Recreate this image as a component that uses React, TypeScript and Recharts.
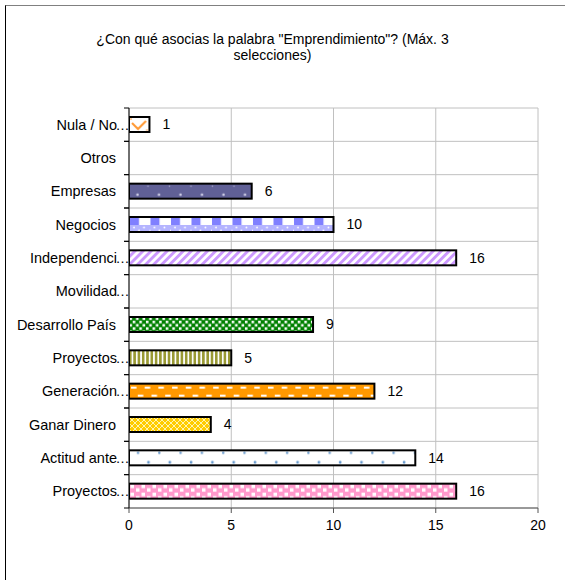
import React from "react";
import { Bar, BarChart, CartesianGrid, LabelList, XAxis, YAxis } from "recharts";

const categories = [
  "Nula / No…",
  "Otros",
  "Empresas",
  "Negocios",
  "Independenci…",
  "Movilidad…",
  "Desarrollo País",
  "Proyectos…",
  "Generación…",
  "Ganar Dinero",
  "Actitud ante…",
  "Proyectos…",
];
const values = [1, 0, 6, 10, 16, 0, 9, 5, 12, 4, 14, 16];
const xTicks = [0, 5, 10, 15, 20];
const titleLines = ['¿Con qué asocias la palabra "Emprendimiento"? (Máx. 3', "selecciones)"];

// pattern used for each category's bar
const fills = [
  "nula",
  "none",
  "empresas",
  "negocios",
  "indep",
  "none",
  "desarrollo",
  "olive",
  "generacion",
  "ganar",
  "actitud",
  "rosa",
];

const data = categories.map((label, i) => ({ key: String(i), label, value: values[i] }));

const W = 565;
const H = 580;
const TOP = 108;
const LEFT = 129;
const PLOT_H = 400;
const BAND = PLOT_H / categories.length;
const FONT = '"Liberation Sans", Arial, sans-serif';

function patternFor(kind: string, id: string, x: number, y: number) {
  const common = { id, patternUnits: "userSpaceOnUse" as const, x, y };
  switch (kind) {
    case "nula":
      return (
        <pattern {...common} width={20.5} height={16}>
          <rect width={20.5} height={16} fill="#fff" />
          <path d="M3 6 L9 12 L17 4" stroke="#ff9933" strokeWidth={2} fill="none" />
          <circle cx={2} cy={2} r={1} fill="#ffc080" />
          <circle cx={18} cy={13} r={1} fill="#ffc080" />
        </pattern>
      );
    case "empresas":
      return (
        <pattern {...common} width={21.5} height={16}>
          <rect width={21.5} height={16} fill="#606096" />
          <circle cx={8.5} cy={11} r={1.3} fill="#d0d0e8" />
          <circle cx={19} cy={2.5} r={0.8} fill="#a8a8cc" />
        </pattern>
      );
    case "negocios":
      return (
        <pattern {...common} width={20.5} height={16}>
          <rect width={20.5} height={16} fill="#fff" />
          <rect x={1} y={0} width={9} height={8} fill="#8080ff" />
          <rect x={0} y={8} width={20.5} height={8} fill="#b4b4ff" />
          <circle cx={5} cy={10.5} r={0.9} fill="#fff" />
          <circle cx={15} cy={10.5} r={0.9} fill="#fff" />
          <circle cx={10} cy={13.5} r={0.9} fill="#fff" />
          <circle cx={0} cy={13.5} r={0.9} fill="#fff" />
        </pattern>
      );
    case "indep":
      return (
        <pattern {...common} width={5.7} height={5.7} patternTransform="rotate(45)">
          <rect width={5.7} height={5.7} fill="#fff" />
          <rect width={2.9} height={5.7} fill="#cc99ff" />
        </pattern>
      );
    case "desarrollo":
      return (
        <pattern {...common} width={6.6} height={6.6}>
          <rect width={6.6} height={6.6} fill="#008000" />
          <rect x={0.4} y={0.4} width={2.6} height={2.6} fill="#fff" />
          <rect x={3.7} y={3.7} width={2.6} height={2.6} fill="#fff" />
        </pattern>
      );
    case "olive":
      return (
        <pattern {...common} width={4.3} height={16}>
          <rect width={4.3} height={16} fill="#fff" />
          <rect width={2.6} height={16} fill="#999933" />
        </pattern>
      );
    case "generacion":
      return (
        <pattern {...common} width={13.7} height={16}>
          <rect width={13.7} height={16} fill="#ff9900" />
          <rect x={2} y={3} width={5.5} height={2} fill="#fff" />
          <rect x={8.8} y={11} width={5.5} height={2} fill="#fff" />
          <rect x={-4.9} y={11} width={5.5} height={2} fill="#fff" />
        </pattern>
      );
    case "ganar":
      return (
        <pattern {...common} width={6} height={6}>
          <rect width={6} height={6} fill="#ffcc00" />
          <path d="M0 0 L6 6 M6 0 L0 6" stroke="#fff4b0" strokeWidth={1} />
        </pattern>
      );
    case "actitud":
      return (
        <pattern {...common} width={21.3} height={16}>
          <rect width={21.3} height={16} fill="#fff" />
          <circle cx={9} cy={2.5} r={1.2} fill="#6699cc" />
          <circle cx={19.5} cy={12} r={1.4} fill="#6699cc" />
        </pattern>
      );
    case "rosa":
    default:
      return (
        <pattern {...common} width={11} height={8}>
          <rect width={11} height={8} fill="#ff99cc" />
          <rect x={1.5} y={1} width={3.5} height={3.5} fill="#fff" />
          <rect x={7} y={4.5} width={3.5} height={3.5} fill="#fff" />
        </pattern>
      );
  }
}

function PatternBar(props: any) {
  const { x, y, width, height, index } = props;
  if (!width || width <= 0) return <g />;
  const id = `pat-${index}`;
  return (
    <g>
      <defs>{patternFor(fills[index], id, x, y)}</defs>
      <rect x={x} y={y} width={width} height={height} fill={`url(#${id})`} stroke="#000" strokeWidth={2} />
    </g>
  );
}

function CategoryTick(props: any) {
  const { y, payload } = props;
  const label = categories[Number(payload.value)] ?? "";
  const cut = label.endsWith("…");
  const main = cut ? label.slice(0, -1) : label;
  return (
    <g>
      <line x1={LEFT - 5} x2={LEFT} y1={y - BAND / 2} y2={y - BAND / 2} stroke="#000" />
      <line x1={LEFT - 5} x2={LEFT} y1={y + BAND / 2} y2={y + BAND / 2} stroke="#000" />
      <text x={cut ? 117 : 116} y={y} dy="0.35em" textAnchor="end" fontSize={14.5} fill="#000" fontFamily={FONT}>
        {main}
      </text>
      {cut && (
        <text x={115.5} y={y} dy="0.35em" textAnchor="start" fontSize={14} fill="#000" fontFamily={FONT}>
          …
        </text>
      )}
    </g>
  );
}

function ValueLabel(props: any) {
  const { x, y, width, height, value } = props;
  if (!value) return null;
  return (
    <text x={x + width + 13} y={y + height / 2} dy="0.35em" fontSize={14} fill="#000" fontFamily={FONT}>
      {value}
    </text>
  );
}

export default function App() {
  return (
    <div
      style={{
        position: "absolute",
        left: 0,
        top: 0,
        width: W,
        height: H,
        overflow: "hidden",
        background: "#fff",
        fontFamily: FONT,
      }}
    >
      <div
        style={{
          position: "absolute",
          left: 5,
          top: 5,
          width: W,
          height: H,
          borderTop: "1.5px solid #808080",
          borderLeft: "1.5px solid #000",
        }}
      />
      <div
        style={{
          position: "absolute",
          left: 0,
          top: 31,
          width: 545,
          textAlign: "center",
          fontSize: 14,
          lineHeight: "16px",
          color: "#000",
        }}
      >
        {titleLines.map((t, i) => (
          <div key={i}>{t}</div>
        ))}
      </div>
      <div style={{ position: "absolute", left: 0, top: 0 }}>
        <BarChart
          width={W}
          height={H}
          data={data}
          layout="vertical"
          margin={{ top: TOP, right: 27, bottom: 42, left: 0 }}
          barSize={15}
        >
          <CartesianGrid
            stroke="#c0c0c0"
            horizontalCoordinatesGenerator={({ offset }: any) =>
              Array.from({ length: categories.length + 1 }, (_, i) => offset.top + (i * offset.height) / categories.length)
            }
          />
          <XAxis
            type="number"
            domain={[0, 20]}
            ticks={xTicks}
            allowDataOverflow
            height={30}
            tickSize={5}
            tickMargin={7}
            stroke="#555"
            tick={{ fill: "#000", fontSize: 14, fontFamily: FONT }}
          />
          <YAxis
            type="category"
            dataKey="key"
            width={LEFT}
            tickLine={false}
            axisLine={{ stroke: "#000" }}
            tick={<CategoryTick />}
            interval={0}
          />
          <Bar dataKey="value" shape={<PatternBar />} isAnimationActive={false}>
            <LabelList dataKey="value" content={<ValueLabel />} />
          </Bar>
        </BarChart>
      </div>
    </div>
  );
}
